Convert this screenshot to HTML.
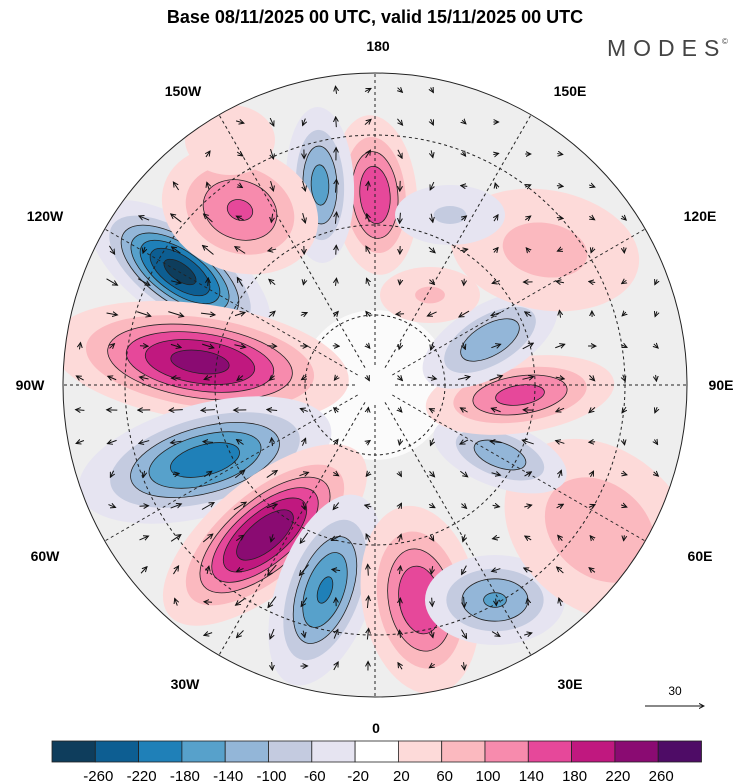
<!DOCTYPE html>
<html><head><meta charset="utf-8"><style>
body{margin:0;background:#fff;}
svg{display:block;font-family:"Liberation Sans",sans-serif;}
</style></head><body>
<svg id="map" width="750" height="783" viewBox="0 0 750 783">
<defs><clipPath id="cc"><circle cx="375" cy="385" r="312"/></clipPath>
<marker id="ah" markerWidth="6" markerHeight="6" refX="5" refY="3" orient="auto"><path d="M0,0.5 L5,3 L0,5.5" fill="none" stroke="#111" stroke-width="1"/></marker></defs>
<text x="375" y="23" text-anchor="middle" font-size="18" font-weight="bold">Base 08/11/2025 00 UTC, valid 15/11/2025 00 UTC</text>
<text x="607" y="56" font-size="23" fill="#444" letter-spacing="7">MODES</text>
<text x="722" y="44" font-size="8" fill="#444">©</text>
<g clip-path="url(#cc)">
<circle cx="375" cy="385" r="312" fill="#eeeeee"/>
<circle cx="375" cy="385" r="75" fill="#fbfbfb"/>
<g id="blobs"></g>
<g id="grid" fill="none" stroke="#222" stroke-width="1" stroke-dasharray="3,3"></g>
<g id="arrows"></g>
</g>
<circle cx="375" cy="385" r="312" fill="none" stroke="#222" stroke-width="1"/>
<g id="lonlabels" font-size="14" font-weight="bold" text-anchor="middle"></g>
<g>
<text x="675" y="695" font-size="12" text-anchor="middle">30</text>
<line x1="645" y1="706" x2="704" y2="706" stroke="#111" marker-end="url(#ah)"/>
</g>
<g id="cbar"></g>
</svg>
<script>
const cx=375,cy=385,R=312;
const cbColors=["#0e3d5c","#0d5e92","#1f80b8","#57a1cb","#93b6d8","#c4cbe0","#e6e4f1","#ffffff","#fddad9","#fbb9bf","#f78bad","#e6489a","#c0187f","#8a0b72","#4e0c66"];
const cbLabels=[-260,-220,-180,-140,-100,-60,-20,20,60,100,140,180,220,260];
// anomaly centres: x, y (px), half-size x, half-size y, rotation, peak value
const blobX=[180,200,205,265,325,420,495,600,500,520,490,545,430,375,320,240,450,230];
const blobY=[272,362,460,535,590,600,600,530,455,395,340,250,295,195,185,210,215,140];
const blobRX=[105,150,130,125,100,95,70,105,70,95,75,95,50,80,78,80,55,45];
const blobRY=[48,58,56,55,48,58,45,80,32,38,36,60,28,42,34,62,30,35];
const blobRot=[35,8,-15,-40,-70,80,0,40,20,-8,-30,10,0,85,88,20,0,0];
const blobPeak=[-275,235,-205,255,-185,175,-145,95,-125,155,-135,75,65,175,-155,145,-65,45];
const lonLabels=["180","150E","120E","90E","60E","30E","0","30W","60W","90W","120W","150W"];
const lonLabelPos=[[378,51],[570,96],[700,221],[721,390],[700,561],[570,689],[376,733],[185,689],[45,561],[30,390],[45,221],[183,96]];
const NS="http://www.w3.org/2000/svg";
function mk(t,a,p){const e=document.createElementNS(NS,t);for(const k in a)e.setAttribute(k,a[k]);p.appendChild(e);return e;}
function colorFor(v){let i=Math.floor((v+300)/40);return cbColors[Math.max(0,Math.min(14,i))];}
const bg=document.getElementById('blobs');
for(let i=0;i<blobX.length;i++){
  const p=blobPeak[i],a=Math.abs(p),s=Math.sign(p);
  for(let L=20;L<a;L+=40){
    const f=Math.pow(Math.log(a/L)/Math.log(a/20),0.45);
    const e=mk('ellipse',{cx:blobX[i],cy:blobY[i],rx:blobRX[i]*f,ry:blobRY[i]*f,transform:`rotate(${blobRot[i]} ${blobX[i]} ${blobY[i]})`,fill:colorFor(s*(L+20)),stroke:L>=100?'#222':'none','stroke-width':0.8},bg);
    
    
  }
}
const gg=document.getElementById('grid');
for(let k=0;k<12;k++){const an=k*30*Math.PI/180;
  const l=mk('line',{x1:cx+20*Math.sin(an),y1:cy-20*Math.cos(an),x2:cx+R*Math.sin(an),y2:cy-R*Math.cos(an)},gg);
  }
[70,160,250].forEach(r=>{const c=mk('circle',{cx:cx,cy:cy,r:r},gg);
  });
const lg=document.getElementById('lonlabels');
lonLabels.forEach((t,i)=>{const e=mk('text',{x:lonLabelPos[i][0],y:lonLabelPos[i][1]},lg);e.textContent=t;
  });
function psi(x,y){let v=0;for(let i=0;i<blobX.length;i++){const r=blobRot[i]*Math.PI/180,dx=x-blobX[i],dy=y-blobY[i];
  const u=(dx*Math.cos(r)+dy*Math.sin(r))/blobRX[i],w=(-dx*Math.sin(r)+dy*Math.cos(r))/blobRY[i];v+=blobPeak[i]*Math.exp(-(u*u+w*w)/1.2);}return v;}
const ag=document.getElementById('arrows');
for(let y=90;y<700;y+=32)for(let x=80;x<690;x+=32){
  const d=Math.hypot(x-cx,y-cy);if(d>R-10)continue;
  const gx=(psi(x+1,y)-psi(x-1,y))/2,gy=(psi(x,y+1)-psi(x,y-1))/2;
  let u=gy,v=-gx;const m=Math.hypot(u,v);if(m<0.05)continue;
  const len=Math.min(26,5+m*1.6);u/=m;v/=m;
  const l=mk('line',{x1:x-u*len/2,y1:y-v*len/2,x2:x+u*len/2,y2:y+v*len/2,stroke:'#111','stroke-width':1,'marker-end':'url(#ah)'},ag);
  
}
const cb=document.getElementById('cbar');const x0=52,w=43.3;
cbColors.forEach((c,i)=>{const r=mk('rect',{x:x0+i*w,y:741,width:w,height:21,fill:c,stroke:'#222','stroke-width':0.8},cb);
  });
cbLabels.forEach((t,i)=>{const e=mk('text',{x:x0+(i+1)*w+3,y:781,'font-size':15,'text-anchor':'middle'},cb);e.textContent=t;
  });
</script>
</body></html>
